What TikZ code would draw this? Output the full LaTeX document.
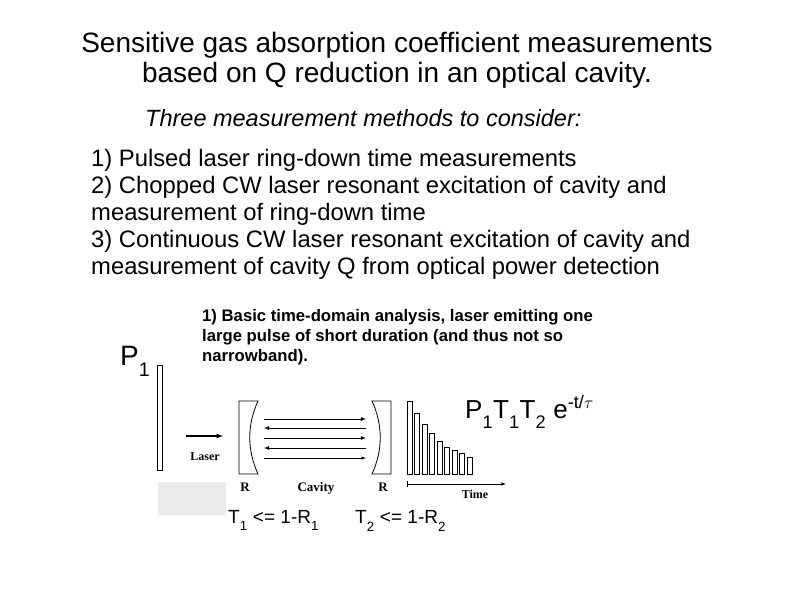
\documentclass[tikz,border=0pt]{standalone}
\usepackage{fontspec}
\setmainfont{Liberation Sans}
\newfontfamily\serifb{Liberation Serif}
\newcommand\dn[1]{\raisebox{-0.25em}{\textsubscript{#1}}}
\begin{document}
\begin{tikzpicture}[x=1pt,y=-1pt,
 txt/.style={inner sep=0pt,anchor=base west},
 cav/.style={line width=0.8pt,-latex},
 bar/.style={draw,line width=0.7pt,fill=white}]
\useasboundingbox (0,0) rectangle (794,595);
\node[inner sep=0pt,anchor=base] (t1) at (397,52) {\fontsize{28}{32}\selectfont Sensitive gas absorption coefficient measurements};
\node[inner sep=0pt,anchor=base] (t2) at (397,82) {\fontsize{28}{32}\selectfont based on Q reduction in an optical cavity.};
\node[txt] (sub) at (145,126) {\fontsize{23.5}{26}\selectfont\itshape Three measurement methods to consider:};
\foreach \t [count=\i] in {1) Pulsed laser ring-down time measurements,
 2) Chopped CW laser resonant excitation of cavity and,
 measurement of ring-down time,
 3) Continuous CW laser resonant excitation of cavity and,
 measurement of cavity Q from optical power detection}
 \node[txt] (l\i) at (91,139+27*\i) {\fontsize{23.8}{26}\selectfont \t};
\node[txt] (p1) at (120,365) {\fontsize{28}{30}\selectfont P\dn{1}};
\node[txt] (d1) at (202,321) {\fontsize{16.7}{18}\selectfont\bfseries 1) Basic time-domain analysis, laser emitting one};
\node[txt] (d2) at (202,341) {\fontsize{16.7}{18}\selectfont\bfseries large pulse of short duration (and thus not so};
\node[txt] (d3) at (202,361) {\fontsize{16.7}{18}\selectfont\bfseries narrowband).};
% gray smudge & plate
\fill[black!8] (158,482) rectangle (226,515);
\draw[line width=0.8pt] (157,365) rectangle (162,470);
% laser arrow
\coordinate (la) at (186,436); \coordinate (lb) at (223,436);
\draw[line width=1.2pt,-latex] (la) -- (lb);
\node[inner sep=0pt,anchor=base] (laser) at (205,460) {\serifb\fontsize{12}{13}\selectfont\bfseries Laser};
% mirrors
\draw[line width=0.8pt] (258,401) -- (239,401) -- (239,474) -- (258,474) .. controls (247,450) and (247,425) .. cycle;
\draw[line width=0.8pt] (372,401) -- (391,401) -- (391,474) -- (372,474) .. controls (383,450) and (383,425) .. cycle;
\coordinate (a1) at (264,419); \coordinate (b1) at (366,419);
\coordinate (a2) at (264,428); \coordinate (b2) at (366,428);
\coordinate (a3) at (264,438); \coordinate (b3) at (366,438);
\coordinate (a4) at (264,448); \coordinate (b4) at (366,448);
\coordinate (a5) at (264,458); \coordinate (b5) at (366,458);
\draw[cav] (a1) -- (b1); \draw[cav] (b2) -- (a2); \draw[cav] (a3) -- (b3);
\draw[cav] (b4) -- (a4); \draw[cav,line width=0.5pt] (a5) -- (b5);
\node[inner sep=0pt,anchor=base] (r1) at (245,491) {\serifb\fontsize{13}{14}\selectfont\bfseries R};
\node[inner sep=0pt,anchor=base] (cv) at (316,491) {\serifb\fontsize{13}{14}\selectfont\bfseries Cavity};
\node[inner sep=0pt,anchor=base] (r2) at (383,491) {\serifb\fontsize{13}{14}\selectfont\bfseries R};
% decay bars
\foreach \top [count=\i] in {401,413,424,433,441,447,450,453,457}
 \draw[bar] (407+7.5*\i-7.5,\top) rectangle ++(5,474-\top);
\coordinate (ta) at (407,484); \coordinate (tb) at (506,484);
\draw[line width=0.6pt,-latex] (ta) -- (tb);
\draw[line width=0.6pt] (407,481) -- (407,487);
\node[inner sep=0pt,anchor=base] (time) at (475,498) {\serifb\fontsize{12}{13}\selectfont\bfseries Time};
\node[txt] (form) at (465,418) {\fontsize{26}{30}\selectfont P\dn{1}T\dn{1}T\dn{2} e\textsuperscript{-t/$\tau$}};
\node[txt] (tt1) at (228,523) {\fontsize{19}{20}\selectfont T\dn{1} <= 1-R\dn{1}};
\node[txt] (tt2) at (355,523) {\fontsize{19}{20}\selectfont T\dn{2} <= 1-R\dn{2}};
\end{tikzpicture}
\end{document}
